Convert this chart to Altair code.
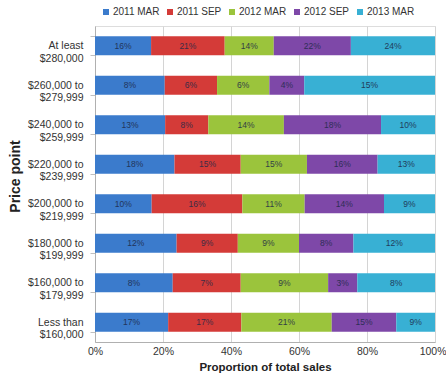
import altair as alt
import pandas as pd

price_points = [
    "At least|$280,000",
    "$260,000 to|$279,999",
    "$240,000 to|$259,999",
    "$220,000 to|$239,999",
    "$200,000 to|$219,999",
    "$180,000 to|$199,999",
    "$160,000 to|$179,999",
    "Less than|$160,000",
]
series = ["2011 MAR", "2011 SEP", "2012 MAR", "2012 SEP", "2013 MAR"]
colors = ["#3b7bcc", "#d43b38", "#9bc43c", "#7e48a8", "#38b0d4"]

v_2011_mar = [16, 8, 13, 18, 10, 12, 8, 17]
v_2011_sep = [21, 6, 8, 15, 16, 9, 7, 17]
v_2012_mar = [14, 6, 14, 15, 11, 9, 9, 21]
v_2012_sep = [22, 4, 18, 16, 14, 8, 3, 15]
v_2013_mar = [24, 15, 10, 13, 9, 12, 8, 9]

all_vals = [v_2011_mar, v_2011_sep, v_2012_mar, v_2012_sep, v_2013_mar]
rows = []
for si, (s, vals) in enumerate(zip(series, all_vals)):
    for p, v in zip(price_points, vals):
        rows.append({"price": p, "series": s, "idx": si, "value": v})
df = pd.DataFrame(rows)

FONT = "Liberation Sans"

base = (
    alt.Chart(df)
    .transform_joinaggregate(total="sum(value)", groupby=["price"])
    .transform_calculate(share="datum.value / datum.total")
    .transform_window(
        cum="sum(share)", groupby=["price"], sort=[{"field": "idx"}], frame=[None, 0]
    )
    .transform_calculate(start="datum.cum - datum.share", mid="datum.cum - datum.share / 2")
)

y_enc = alt.Y(
    "price:N",
    sort=price_points,
    scale=alt.Scale(paddingInner=0.52, paddingOuter=0.26),
    axis=alt.Axis(
        title="Price point",
        titleFont=FONT,
        titleFontSize=14,
        titleFontWeight="bold",
        titleColor="#222222",
        titleX=-73,
        titleY=150,
        labelExpr="split(datum.label, '|')",
        labelFont=FONT,
        labelFontSize=10.5,
        labelColor="#333333",
        labelLineHeight=12.5,
        labelPadding=7,
        ticks=True,
        tickBand="extent",
        tickSize=5,
        tickColor="#c0c0c0",
        domainColor="#b0b0b0",
        grid=False,
    ),
)

bars = base.mark_bar(size=19).encode(
    x=alt.X(
        "start:Q",
        scale=alt.Scale(domain=[0, 1], nice=False),
        axis=alt.Axis(
            title="Proportion of total sales",
            format="%",
            values=[0, 0.2, 0.4, 0.6, 0.8, 1.0],
            titleFont=FONT,
            titleFontSize=11.5,
            titleFontWeight="bold",
            titleColor="#222222",
            titlePadding=5,
            labelFont=FONT,
            labelFontSize=10.5,
            labelColor="#333333",
            labelPadding=4,
            labelAlign={"condition": {"test": "datum.value >= 1", "value": "right"}, "value": "center"},
            labelOffset={"condition": {"test": "datum.value >= 1", "value": 11}, "value": 0},
            ticks=False,
            domainColor="#b0b0b0",
            gridColor="#d4d4d4",
            labelFlush=False,
        ),
    ),
    x2="cum:Q",
    y=y_enc,
    color=alt.Color(
        "series:N",
        sort=series,
        scale=alt.Scale(domain=series, range=colors),
        legend=alt.Legend(
            title=None,
            orient="none",
            direction="horizontal",
            legendX=6,
            legendY=-19,
            symbolType="square",
            symbolSize=36,
            symbolStrokeWidth=0,
            labelFont=FONT,
            labelFontSize=10,
            labelColor="#333333",
            labelOffset=2,
            columnPadding=5,
        ),
    ),
    order=alt.Order("idx:Q"),
)

labels = base.transform_calculate(lab="datum.value + '%'").mark_text(
    font=FONT, fontSize=8.5, color="#1e2a48", opacity=0.85
).encode(
    x=alt.X("mid:Q"),
    y=alt.Y("price:N", sort=price_points),
    text="lab:N",
)

chart = (
    alt.layer(bars, labels)
    .properties(
        width=340,
        height=316,
        autosize=alt.AutoSizeParams(type="none"),
        padding={"left": 95, "top": 26, "right": 11, "bottom": 36},
    )
    .configure_view(stroke=None)
    .configure(background="white")
)

chart.save("out.html", embed_options={"renderer": "svg", "actions": False})
